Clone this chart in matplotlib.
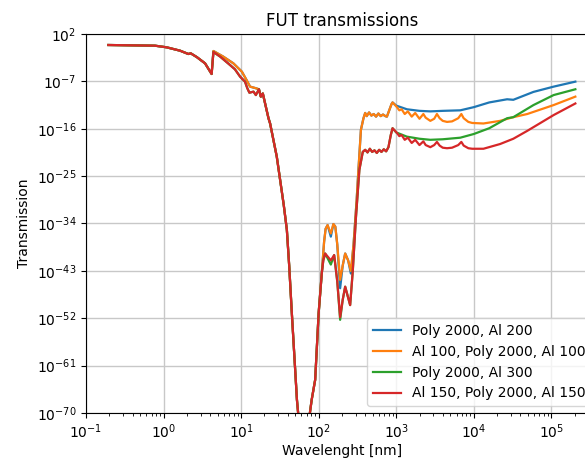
import matplotlib.pyplot as plt
import numpy as np

# values, stored as log10(wavelength / nm) and log10(transmission)
lx_common = [-0.712, -0.11, 0.04, 0.213, 0.32, 0.35, 0.43, 0.535, 0.62]
ly_common = [-0.09, -0.22, -0.53, -1.17, -1.8, -1.67, -2.4, -3.57, -5.6]

lx_dip = [1.374, 1.46, 1.503, 1.55, 1.59, 1.62, 1.654, 1.69, 1.72, 1.76, 1.80, 1.85, 1.91, 1.955, 2.0]
ly_dip = [-15, -21.3, -25.7, -30.5, -35.2, -42, -51, -60, -67.5, -74, -78, -74, -67.5, -63.7, -51]

# thin outer Al (orange / blue) early shoulder
lx_edge_a = [0.643, 0.77, 0.9, 1.01, 1.07, 1.116, 1.19, 1.23, 1.254, 1.28, 1.353]
ly_edge_a = [-1.23, -2.3, -3.57, -5.16, -6.74, -8.0, -8.3, -8.5, -9.9, -9.3, -14.0]
# thick outer Al (red / green) early shoulder
lx_edge_b = [0.643, 0.73, 0.858, 0.92, 0.987, 1.05, 1.08, 1.107, 1.16, 1.19, 1.23, 1.254, 1.28, 1.353]
ly_edge_b = [-1.42, -2.3, -3.9, -4.7, -6.1, -7.05, -8.3, -9.15, -8.95, -9.6, -8.5, -9.9, -9.3, -14.0]

lx_peak_a = [2.04, 2.07, 2.09, 2.115, 2.157, 2.19, 2.215, 2.24, 2.277, 2.31, 2.342, 2.38, 2.415, 2.45, 2.49,
             2.513, 2.545, 2.578]
ly_peak_blue = [-43.5, -37.5, -35.0, -34.3, -36.5, -34.1, -34.6, -38, -46.3, -42, -39.7, -41, -43.5, -38, -29.5,
                -23.8, -16.2, -14.0]
ly_peak_orange = [-43.5, -37.5, -35.0, -34.3, -35.9, -34.1, -34.6, -38, -44.7, -42, -39.7, -41, -43, -38, -29.5,
                  -23.8, -16.2, -14.0]
lx_peak_b = [2.04, 2.06, 2.084, 2.157, 2.2, 2.24, 2.277, 2.31, 2.342, 2.406, 2.44, 2.48, 2.525, 2.569]
ly_peak_green = [-43.5, -41, -39.7, -41.8, -40, -45, -52.3, -48.5, -46, -49.5, -43, -33, -23.8, -20.4]
ly_peak_red = [-43.5, -41, -39.7, -41, -40, -45, -51.8, -48.5, -46, -49.5, -43, -33, -23.8, -20.4]

lx_plat_a = [2.6, 2.62, 2.65, 2.68, 2.71, 2.74, 2.77, 2.8, 2.83, 2.86, 2.88, 2.91, 2.94, 2.953]
ly_plat_a = [-13.0, -13.6, -12.9, -13.5, -13.2, -13.7, -13.1, -13.6, -13.3, -13.6, -13.7, -12.5, -11.3, -11.0]
lx_plat_b = [2.6, 2.63, 2.66, 2.69, 2.72, 2.75, 2.78, 2.81, 2.84, 2.87, 2.9, 2.93, 2.953]
ly_plat_b = [-20.0, -20.5, -19.8, -20.4, -20.1, -20.6, -20.0, -20.4, -19.9, -20.3, -19.5, -17.2, -15.9]

lx_tail_smooth = [3.0, 3.138, 3.3, 3.44, 3.6, 3.826, 4.0, 4.2, 4.43, 4.51, 4.77, 5.03, 5.31]
ly_tail_blue = [-11.6, -12.3, -12.6, -12.7, -12.6, -12.5, -11.9, -11.0, -10.4, -10.5, -9.0, -8.0, -7.05]
ly_tail_green = [-16.7, -17.5, -17.9, -18.1, -18.0, -17.7, -17.0, -15.9, -14.0, -13.8, -11.5, -9.6, -8.5]
lx_tail_ripple = [3.01, 3.04, 3.07, 3.11, 3.15, 3.2, 3.245, 3.3, 3.35, 3.38, 3.44, 3.49, 3.525,
                  3.56, 3.6, 3.655, 3.72, 3.8, 3.84, 3.87, 3.93, 3.98, 4.125, 4.34, 4.51, 4.69, 5.03, 5.31]
ly_tail_orange = [-11.9, -12.5, -12.3, -13.2, -12.7, -13.7, -13.0, -14.1, -13.2, -13.9, -14.5, -14.1, -13.2,
                  -14.0, -14.5, -14.7, -14.6, -14.0, -13.2, -14.0, -14.7, -14.9, -15.0, -14.5, -13.8, -13.2, -11.5, -9.9]
ly_tail_red = [-16.8, -17.4, -17.2, -18.1, -17.7, -18.7, -18.1, -19.1, -18.4, -19.1, -19.5, -19.1, -18.5,
               -19.2, -19.6, -19.7, -19.6, -19.1, -18.5, -19.2, -19.7, -19.8, -19.8, -18.9, -17.9, -16.4, -13.4, -11.2]

labels = ["Poly 2000, Al 200", "Al 100, Poly 2000, Al 100",
          "Poly 2000, Al 300", "Al 150, Poly 2000, Al 150"]

series = [
    (lx_common + lx_edge_a + lx_dip + lx_peak_a + lx_plat_a + lx_tail_smooth,
     ly_common + ly_edge_a + ly_dip + ly_peak_blue + ly_plat_a + ly_tail_blue),
    (lx_common + lx_edge_a + lx_dip + lx_peak_a + lx_plat_a + lx_tail_ripple,
     ly_common + ly_edge_a + ly_dip + ly_peak_orange + ly_plat_a + ly_tail_orange),
    (lx_common + lx_edge_b + lx_dip + lx_peak_b + lx_plat_b + lx_tail_smooth,
     ly_common + ly_edge_b + ly_dip + ly_peak_green + ly_plat_b + ly_tail_green),
    (lx_common + lx_edge_b + lx_dip + lx_peak_b + lx_plat_b + lx_tail_ripple,
     ly_common + ly_edge_b + ly_dip + ly_peak_red + ly_plat_b + ly_tail_red),
]

fig = plt.figure(figsize=(5.85, 4.59), dpi=100)
ax = fig.add_axes([86 / 585, 46 / 459, 512 / 585, 379 / 459])

for (lx, ly), lab in zip(series, labels):
    ax.plot(10.0 ** np.array(lx), 10.0 ** np.array(ly), label=lab, lw=1.6)

ax.set_xscale("log")
ax.set_yscale("log")
ax.set_xlim(1e-1, 4e5)
ax.set_ylim(1e-70, 1e2)
ax.set_yticks(10.0 ** np.arange(-70, 3, 9))
ax.yaxis.set_minor_locator(plt.NullLocator())
ax.grid(True, color="#c8c8c8", lw=1.0)
ax.set_title("FUT transmissions")
ax.set_xlabel("Wavelenght [nm]", labelpad=2)
ax.set_ylabel("Transmission")
ax.legend(loc="lower right")

fig.savefig("out.png")
